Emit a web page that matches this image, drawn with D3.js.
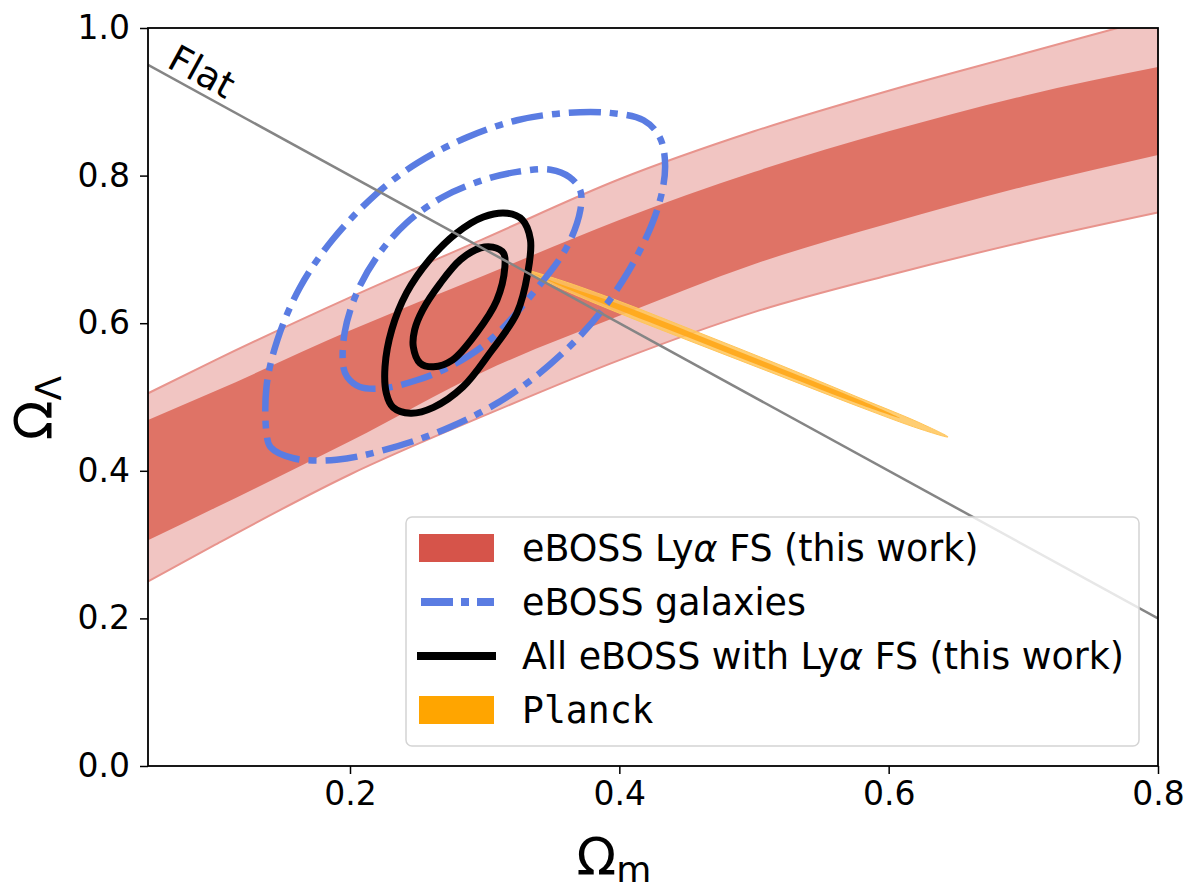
<!DOCTYPE html>
<html>
<head>
<meta charset="utf-8">
<script src="https://cdn.jsdelivr.net/npm/d3@7"></script>
<style>
  html, body { margin: 0; padding: 0; background: #fff; }
  svg text { font-family: "DejaVu Sans", sans-serif; fill: #000; }
  svg text.mono { font-family: "DejaVu Sans Mono", monospace; }
</style>
</head>
<body>
<svg id="chart" width="1191" height="892"></svg>
<script>
// Ωm grid on which the Lyα full-shape band edges are tabulated
const omGrid = [0.05, 0.1, 0.2, 0.3, 0.4, 0.5, 0.6, 0.7, 0.8];
// 2σ (outer) and 1σ (inner) edges of the Lyα FS band, ΩΛ values
const lyaOuterUpper = [0.505, 0.55, 0.635, 0.715, 0.795, 0.86, 0.915, 0.965, 1.015];
const lyaInnerUpper = [0.469, 0.508, 0.59, 0.665, 0.74, 0.805, 0.86, 0.908, 0.947];
const lyaInnerLower = [0.306, 0.35, 0.44, 0.535, 0.61, 0.68, 0.735, 0.785, 0.828];
const lyaOuterLower = [0.25, 0.3, 0.395, 0.475, 0.55, 0.615, 0.665, 0.71, 0.75];

// eBOSS galaxies contours, [Ωm, ΩΛ]
const galaxies2sigma = [
  [0.138, 0.451], [0.141, 0.432], [0.158, 0.417], [0.190, 0.415], [0.225, 0.428],
  [0.274, 0.459], [0.324, 0.509], [0.373, 0.587], [0.406, 0.668], [0.428, 0.753],
  [0.434, 0.812], [0.430, 0.852], [0.418, 0.875], [0.393, 0.885], [0.361, 0.885],
  [0.324, 0.875], [0.287, 0.852], [0.250, 0.817], [0.220, 0.776], [0.187, 0.713],
  [0.163, 0.649], [0.146, 0.577], [0.138, 0.514]
];
const galaxies1sigma = [
  [0.195, 0.541], [0.198, 0.527], [0.207, 0.514], [0.225, 0.512], [0.250, 0.523],
  [0.274, 0.541], [0.304, 0.577], [0.336, 0.641], [0.361, 0.703], [0.371, 0.753],
  [0.371, 0.780], [0.363, 0.798], [0.349, 0.808], [0.324, 0.805], [0.299, 0.794],
  [0.269, 0.771], [0.242, 0.736], [0.220, 0.690], [0.205, 0.641], [0.196, 0.587]
];

// All eBOSS with Lyα FS contours, [Ωm, ΩΛ]
const combined2sigma = [
  [0.227, 0.505], [0.232, 0.486], [0.245, 0.478], [0.262, 0.486], [0.284, 0.514],
  [0.304, 0.560], [0.324, 0.614], [0.332, 0.668], [0.334, 0.713], [0.328, 0.740],
  [0.317, 0.749], [0.299, 0.744], [0.279, 0.722], [0.259, 0.686], [0.242, 0.641],
  [0.231, 0.591], [0.226, 0.541]
];
const combined1sigma = [
  [0.247, 0.568], [0.252, 0.546], [0.262, 0.541], [0.276, 0.550], [0.294, 0.587],
  [0.309, 0.631], [0.315, 0.676], [0.314, 0.695], [0.306, 0.703], [0.297, 0.702],
  [0.282, 0.686], [0.267, 0.654], [0.254, 0.618], [0.248, 0.591]
];

// Planck contours (thin degeneracy sliver), [Ωm, ΩΛ]
const planck2sigma = [
  [0.3300, 0.6721], [0.3559, 0.6585], [0.4005, 0.6294], [0.4599, 0.5867],
  [0.5193, 0.5434], [0.5787, 0.4986], [0.6233, 0.4648], [0.6441, 0.4458],
  [0.6233, 0.4566], [0.5787, 0.4864], [0.5193, 0.5285], [0.4599, 0.5705],
  [0.4005, 0.6131], [0.3559, 0.6477]
];
const planck1sigma = [
  [0.3374, 0.6667], [0.3559, 0.6531], [0.4005, 0.6253], [0.4599, 0.5827],
  [0.5193, 0.5393], [0.5787, 0.4959], [0.6084, 0.4714],
  [0.5787, 0.4898], [0.5193, 0.5318], [0.4599, 0.5745], [0.4005, 0.6172],
  [0.3559, 0.6507]
];

// Flat universe line Ωm + ΩΛ = 1
const flatOm = [0.05, 0.8];

const xTicks = [0.2, 0.4, 0.6, 0.8];
const yTicks = [0.0, 0.2, 0.4, 0.6, 0.8, 1.0];

const legendLabels = ["eBOSS Lyα FS (this work)", "eBOSS galaxies",
                      "All eBOSS with Lyα FS (this work)", "Planck"];

const svg = d3.select("#chart");
const plotLeft = 148, plotRight = 1158, plotTop = 28, plotBottom = 766;

const x = d3.scaleLinear().domain([0.05, 0.8]).range([plotLeft, plotRight]);
const y = d3.scaleLinear().domain([0, 1]).range([plotBottom, plotTop]);

svg.append("defs").append("clipPath").attr("id", "plotClip")
  .append("rect").attr("x", plotLeft).attr("y", plotTop)
  .attr("width", plotRight - plotLeft).attr("height", plotBottom - plotTop);

const plot = svg.append("g").attr("clip-path", "url(#plotClip)");

// Lyα FS band
const band = (lo, hi) => d3.area()
  .x((d, i) => x(omGrid[i]))
  .y0((d, i) => y(lo[i]))
  .y1((d, i) => y(hi[i]))
  .curve(d3.curveMonotoneX)(omGrid);
const edge = (vals) => d3.line()
  .x((d, i) => x(omGrid[i]))
  .y((d, i) => y(vals[i]))
  .curve(d3.curveMonotoneX)(omGrid);

plot.append("path").attr("d", band(lyaOuterLower, lyaOuterUpper))
  .attr("fill", "#f1c5c2");
plot.append("path").attr("d", band(lyaInnerLower, lyaInnerUpper))
  .attr("fill", "#df7366");
[lyaOuterLower, lyaOuterUpper].forEach(v => {
  plot.append("path").attr("d", edge(v))
    .attr("fill", "none").attr("stroke", "#e8948d").attr("stroke-width", 2);
});

const closed = d3.line().x(d => x(d[0])).y(d => y(d[1]))
  .curve(d3.curveCatmullRomClosed.alpha(0.5));

// Planck
plot.append("path").attr("d", closed(planck2sigma))
  .attr("fill", "#ffc55a").attr("fill-opacity", 0.85)
  .attr("stroke", "#ffc55a").attr("stroke-width", 1);
plot.append("path").attr("d", closed(planck1sigma))
  .attr("fill", "#ffa718").attr("fill-opacity", 0.9);

// eBOSS galaxies (dash-dot)
const blue = "#5a7ce2";
[galaxies2sigma, galaxies1sigma].forEach(c => {
  plot.append("path").attr("d", closed(c))
    .attr("fill", "none").attr("stroke", blue).attr("stroke-width", 6.5)
    .attr("stroke-dasharray", "32,9,8,9");
});

// Combined contours
[combined2sigma, combined1sigma].forEach(c => {
  plot.append("path").attr("d", closed(c))
    .attr("fill", "none").attr("stroke", "#000").attr("stroke-width", 7)
    .attr("stroke-linejoin", "round");
});

// Flat line
plot.append("path")
  .attr("d", d3.line().x(d => x(d)).y(d => y(1 - d))(flatOm))
  .attr("stroke", "#858585").attr("stroke-width", 2.5).attr("fill", "none");

const flatAngle = Math.atan2(y(0.2) - y(0.95), x(0.8) - x(0.05)) * 180 / Math.PI;
svg.append("text")
  .attr("transform", `translate(${x(0.063)},${y(0.948)}) rotate(${flatAngle})`)
  .attr("font-size", 37).text("Flat");

// Axes
const xAxis = d3.axisBottom(x).tickValues(xTicks).tickFormat(d3.format(".1f"))
  .tickSize(8).tickPadding(8);
const yAxis = d3.axisLeft(y).tickValues(yTicks).tickFormat(d3.format(".1f"))
  .tickSize(8).tickPadding(10);

const gx = svg.append("g").attr("transform", `translate(0,${plotBottom})`).call(xAxis);
const gy = svg.append("g").attr("transform", `translate(${plotLeft},0)`).call(yAxis);
[gx, gy].forEach(g => {
  g.select(".domain").remove();
  g.selectAll(".tick line").attr("stroke", "#000").attr("stroke-width", 1.5);
  g.selectAll(".tick text").attr("font-size", 33).attr("fill", "#000");
});

svg.append("rect").attr("x", plotLeft).attr("y", plotTop)
  .attr("width", plotRight - plotLeft).attr("height", plotBottom - plotTop)
  .attr("fill", "none").attr("stroke", "#000").attr("stroke-width", 1.8);

// Axis labels
const xl = svg.append("text").attr("x", 614).attr("y", 875).attr("text-anchor", "middle");
xl.append("tspan").attr("font-size", 52).text("Ω");
xl.append("tspan").attr("font-size", 36).attr("dy", 7).text("m");

const yl = svg.append("text")
  .attr("transform", "translate(52,408) rotate(-90)")
  .attr("text-anchor", "middle");
yl.append("tspan").attr("font-size", 52).text("Ω");
yl.append("tspan").attr("font-size", 36).attr("dy", 9).text("Λ");

// Legend
const lg = svg.append("g");
lg.append("rect").attr("x", 406).attr("y", 517).attr("width", 733).attr("height", 229)
  .attr("rx", 6).attr("fill", "#fff").attr("fill-opacity", 0.8)
  .attr("stroke", "#d4d4d4").attr("stroke-width", 1.5);

const rowY = d3.scalePoint().domain(legendLabels).range([548, 710]);
const kx0 = 419, kx1 = 494;

lg.append("rect").attr("x", kx0).attr("y", rowY(legendLabels[0]) - 14)
  .attr("width", kx1 - kx0).attr("height", 28).attr("fill", "#d6544a");
lg.append("line").attr("x1", kx0 + 2).attr("x2", kx1).attr("y1", rowY(legendLabels[1]))
  .attr("y2", rowY(legendLabels[1])).attr("stroke", blue).attr("stroke-width", 8)
  .attr("stroke-dasharray", "32,8,8,8");
lg.append("line").attr("x1", kx0 - 2).attr("x2", kx1 + 2).attr("y1", rowY(legendLabels[2]))
  .attr("y2", rowY(legendLabels[2])).attr("stroke", "#000").attr("stroke-width", 8);
lg.append("rect").attr("x", kx0).attr("y", rowY(legendLabels[3]) - 14)
  .attr("width", kx1 - kx0).attr("height", 28).attr("fill", "#ffa500");

const tx = 522;
const lab = (i) => lg.append("text").attr("x", tx).attr("y", rowY(legendLabels[i]) + 13)
  .attr("font-size", 36.4);
let t0 = lab(0);
t0.append("tspan").text("eBOSS Ly");
t0.append("tspan").attr("font-style", "italic").text("α");
t0.append("tspan").text(" FS (this work)");
lab(1).text(legendLabels[1]);
let t2 = lab(2);
t2.append("tspan").text("All eBOSS with Ly");
t2.append("tspan").attr("font-style", "italic").text("α");
t2.append("tspan").text(" FS (this work)");
lab(3).attr("class", "mono").text(legendLabels[3]);
</script>
</body>
</html>
